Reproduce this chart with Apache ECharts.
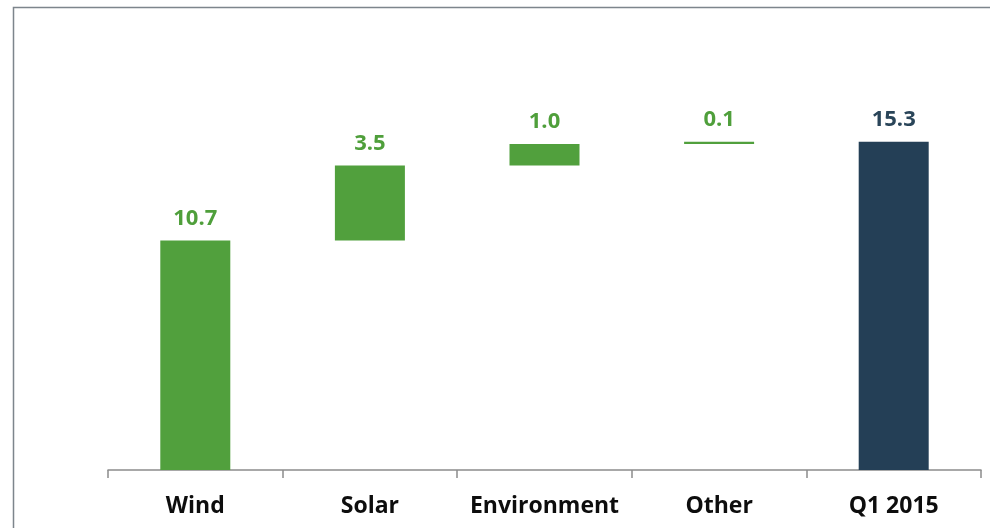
<!DOCTYPE html>
<html>
<head>
<meta charset="utf-8">
<script src="https://cdn.jsdelivr.net/npm/echarts@6/dist/echarts.min.js"></script>
<style>
  html, body { margin: 0; padding: 0; background: #fff; }
  #chart { width: 990px; height: 528px; }
</style>
</head>
<body>
<div id="chart"></div>
<script>
// Contribution bridge: each component stacks on the running total, ending with the total bar
const categories = ['Wind', 'Solar', 'Environment', 'Other', 'Q1 2015'];
const deltas = [10.7, 3.5, 1.0, 0.1, 15.3];
const isTotal = [false, false, false, false, true];

const GREEN = '#51a03d';
const NAVY = '#243f56';
const FONT = '"Open Sans", Lato, sans-serif';

// invisible offsets so each delta floats at the cumulative level
const offsets = [];
let running = 0;
deltas.forEach((d, i) => {
  if (isTotal[i]) { offsets.push(0); }
  else { offsets.push(running); running += d; }
});

const chart = echarts.init(document.getElementById('chart'), null, { renderer: 'canvas' });

chart.setOption({
  animation: false,
  backgroundColor: '#ffffff',
  graphic: [{
    type: 'polyline',
    shape: { points: [[13.5, 528], [13.5, 7.5], [990, 7.5]] },
    style: { stroke: '#7d858c', lineWidth: 1.5, fill: null },
    silent: true
  }],
  grid: { left: 108, right: 9, top: 41, bottom: 58 },
  xAxis: {
    type: 'category',
    data: categories,
    boundaryGap: true,
    axisLine: { show: true, lineStyle: { color: '#8c8c8c', width: 1.5 } },
    axisTick: { show: true, interval: 0, alignWithLabel: false, length: 8, lineStyle: { color: '#8c8c8c', width: 1.5 } },
    axisLabel: {
      interval: 0,
      color: '#0d0d0d', fontFamily: FONT, fontWeight: 'bold', fontSize: 23, margin: 25
    }
  },
  yAxis: {
    type: 'value', min: 0, max: 20,
    show: false, splitLine: { show: false }
  },
  series: [
    {
      type: 'bar', stack: 'bridge', barWidth: 70,
      data: offsets,
      itemStyle: { color: 'transparent' },
      silent: true
    },
    {
      type: 'bar', stack: 'bridge', barWidth: 70,
      data: deltas.map((v, i) => ({
        value: v,
        itemStyle: { color: isTotal[i] ? NAVY : GREEN },
        label: { color: isTotal[i] ? '#2a4559' : '#4f9f3b' }
      })),
      label: {
        show: true, position: 'top', distance: 11,
        fontFamily: FONT, fontWeight: 'bold', fontSize: 22,
        formatter: p => p.value.toFixed(1)
      }
    }
  ]
});
</script>
</body>
</html>
